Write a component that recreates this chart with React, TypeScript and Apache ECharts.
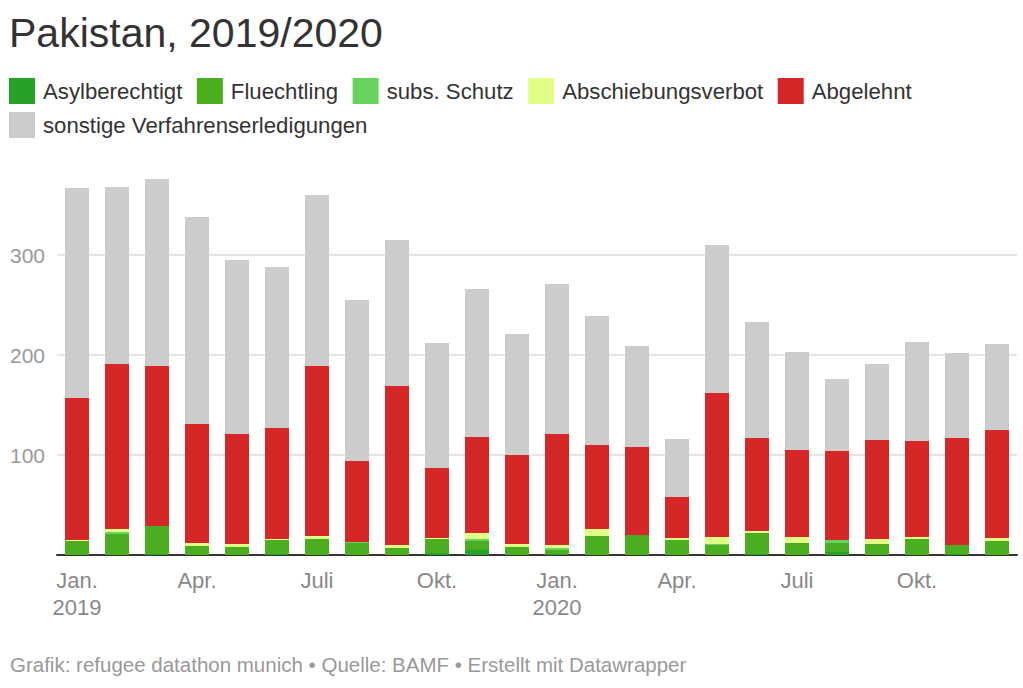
import React, { useEffect, useRef } from "react";
import * as echarts from "echarts";

const months = [
  "2019-01", "2019-02", "2019-03", "2019-04", "2019-05", "2019-06",
  "2019-07", "2019-08", "2019-09", "2019-10", "2019-11", "2019-12",
  "2020-01", "2020-02", "2020-03", "2020-04", "2020-05", "2020-06",
  "2020-07", "2020-08", "2020-09", "2020-10", "2020-11", "2020-12",
];
const tickLabels = [
  "Jan.\n2019", "", "", "Apr.", "", "", "Juli", "", "", "Okt.", "", "",
  "Jan.\n2020", "", "", "Apr.", "", "", "Juli", "", "", "Okt.", "", "",
];
const yTicks = [100, 200, 300];

const asylberechtigt = [0, 0, 1, 0, 0, 1, 0, 0, 0, 2, 5, 0, 1, 0, 0, 0, 0, 1, 0, 3, 0, 0, 1, 0];
const fluechtling = [14, 21, 28, 9, 8, 14, 16, 12, 7, 14, 9, 8, 4, 19, 20, 15, 10, 21, 12, 9, 11, 16, 9, 14];
const subsSchutz = [0, 2, 0, 0, 0, 0, 0, 1, 0, 0, 2, 0, 2, 0, 0, 0, 1, 0, 0, 3, 0, 0, 0, 0];
const abschiebungsverbot = [1, 3, 0, 3, 3, 1, 3, 0, 3, 1, 6, 3, 3, 7, 0, 2, 7, 2, 6, 0, 5, 2, 0, 3];
const abgelehnt = [142, 165, 160, 119, 110, 111, 170, 81, 159, 70, 96, 89, 111, 84, 88, 41, 144, 93, 87, 89, 99, 96, 107, 108];
const sonstige = [210, 177, 187, 207, 174, 161, 171, 161, 146, 125, 148, 121, 150, 129, 101, 58, 148, 116, 98, 72, 76, 99, 85, 86];

const seriesDefs = [
  { name: "Asylberechtigt", data: asylberechtigt, color: "#27a227" },
  { name: "Fluechtling", data: fluechtling, color: "#4aae20" },
  { name: "subs. Schutz", data: subsSchutz, color: "#66d35e" },
  { name: "Abschiebungsverbot", data: abschiebungsverbot, color: "#e0fd86" },
  { name: "Abgelehnt", data: abgelehnt, color: "#d62728" },
  { name: "sonstige Verfahrenserledigungen", data: sonstige, color: "#cccccc" },
];

const FONT = "'Liberation Sans', Arial, sans-serif";

export default function App() {
  const ref = useRef<HTMLDivElement>(null);
  useEffect(() => {
    document.body.style.margin = "0";
    if (!ref.current) return;
    const chart = echarts.init(ref.current, undefined, { renderer: "svg" });
    const legendCommon = {
      orient: "horizontal" as const,
      left: 9,
      padding: 0,
      itemWidth: 26,
      itemHeight: 26,
      itemGap: 14.5,
      icon: "rect",
      textStyle: { fontSize: 22.2, color: "#333333", fontFamily: FONT, padding: [0, 0, 0, 3] },
    };
    chart.setOption({
      animation: false,
      backgroundColor: "#ffffff",
      textStyle: { fontFamily: FONT },
      title: {
        text: "Pakistan, 2019/2020",
        left: 9,
        top: 12,
        padding: 0,
        textStyle: { fontSize: 41, fontWeight: "normal", color: "#333333", fontFamily: FONT },
      },
      legend: [
        { ...legendCommon, top: 78, data: seriesDefs.slice(0, 5).map((s) => s.name) },
        { ...legendCommon, top: 112, data: [seriesDefs[5].name] },
      ],
      grid: { left: 57, right: 6, top: 155, bottom: 133, containLabel: false },
      xAxis: {
        type: "category",
        data: months,
        axisTick: { show: false },
        axisLine: { show: true, lineStyle: { color: "#333333", width: 2 } },
        axisLabel: {
          interval: 0,
          formatter: (_v: string, i: number) => tickLabels[i],
          fontSize: 22,
          lineHeight: 27,
          color: "#888888",
          margin: 12,
          fontFamily: FONT,
        },
      },
      yAxis: {
        type: "value",
        min: 0,
        max: 400,
        interval: 100,
        axisLine: { show: false },
        axisTick: { show: false },
        axisLabel: {
          formatter: (v: number) => (yTicks.includes(v) ? String(v) : ""),
          fontSize: 21,
          color: "#999999",
          margin: 12,
          fontFamily: FONT,
        },
        splitLine: {
          show: true,
          showMinLine: false,
          showMaxLine: false,
          lineStyle: { color: "#e5e5e5", width: 2 },
        },
      },
      series: seriesDefs.map((s) => ({
        name: s.name,
        type: "bar",
        stack: "total",
        data: s.data,
        barWidth: 24,
        itemStyle: { color: s.color },
        emphasis: { disabled: true },
      })),
      graphic: [
        {
          type: "text",
          left: 10,
          top: 654,
          style: {
            text: "Grafik: refugee datathon munich • Quelle: BAMF • Erstellt mit Datawrapper",
            fontSize: 20.5,
            fill: "#999999",
            fontFamily: FONT,
          },
        },
      ],
    });
    return () => chart.dispose();
  }, []);
  return <div ref={ref} style={{ width: 1023, height: 688 }} />;
}
